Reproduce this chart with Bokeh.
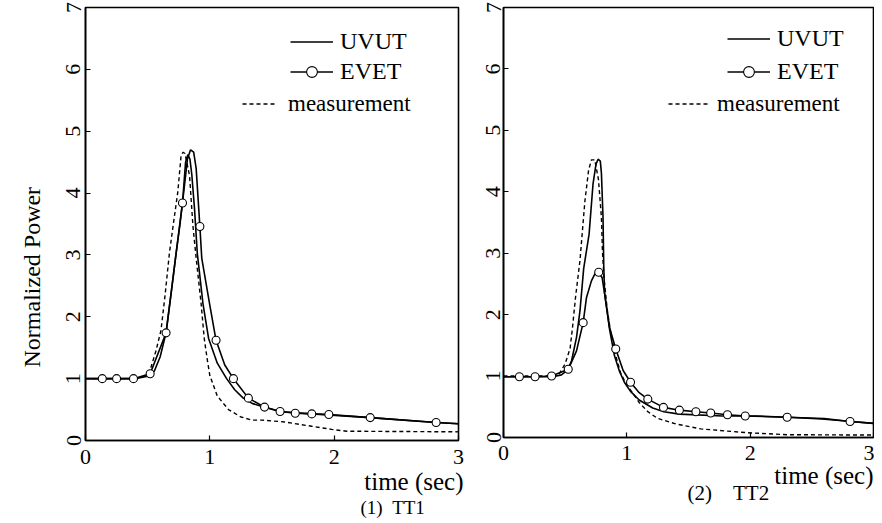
from bokeh.plotting import figure
from bokeh.layouts import row
from bokeh.models import Legend, LegendItem, Title, FixedTicker, Range1d
from bokeh.embed import file_html
from bokeh.resources import INLINE

# ---------------- data ----------------
# (1) TT1
tt1_uvut_t = [0, 0.4, 0.5, 0.553, 0.6, 0.648, 0.69, 0.729, 0.76, 0.78, 0.805, 0.823, 0.84, 0.855,
              0.877, 0.899, 0.945, 0.99, 1.06, 1.135, 1.2, 1.269, 1.34, 1.42, 1.565, 1.82, 2.29, 2.82, 3.0]
tt1_uvut_v = [1.0, 1.0, 1.04, 1.12, 1.35, 1.74, 2.4, 3.03, 3.5, 3.84, 4.5, 4.62, 4.55, 4.3,
              3.74, 3.03, 2.21, 1.65, 1.25, 1.0, 0.82, 0.685, 0.6, 0.55, 0.47, 0.43, 0.37, 0.29, 0.27]
tt1_evet_t = [0, 0.135, 0.25, 0.386, 0.52, 0.648, 0.729, 0.78, 0.82, 0.845, 0.87, 0.89, 0.92,
              0.935, 0.998, 1.05, 1.12, 1.19, 1.31, 1.44, 1.565, 1.687, 1.82, 1.957, 2.29, 2.82, 3.0]
tt1_evet_v = [1.0, 1.0, 1.0, 1.0, 1.08, 1.74, 3.03, 3.84, 4.55, 4.7, 4.66, 4.4, 3.46,
              2.95, 2.21, 1.62, 1.22, 1.0, 0.685, 0.54, 0.47, 0.44, 0.43, 0.42, 0.37, 0.29, 0.27]
tt1_evet_mark_t = [0.135, 0.25, 0.386, 0.52, 0.648, 0.78, 0.92, 1.05, 1.19, 1.31, 1.44, 1.565,
                   1.687, 1.82, 1.957, 2.29, 2.82]
tt1_evet_mark_v = [1.0, 1.0, 1.0, 1.08, 1.74, 3.84, 3.46, 1.62, 1.0, 0.685, 0.54, 0.47,
                   0.44, 0.43, 0.42, 0.37, 0.29]
tt1_meas_t = [0, 0.4, 0.45, 0.5, 0.526, 0.567, 0.607, 0.64, 0.675, 0.71, 0.742, 0.769, 0.785, 0.80,
              0.837, 0.864, 0.89, 0.93, 0.955, 0.98, 1.0, 1.06, 1.15, 1.25, 1.34, 1.42, 1.6, 1.82,
              1.98, 2.1, 3.0]
tt1_meas_v = [1.0, 1.0, 1.02, 1.08, 1.18, 1.45, 1.78, 2.35, 3.03, 3.55, 4.01, 4.61, 4.66, 4.64,
              4.28, 3.47, 2.95, 2.21, 1.65, 1.3, 1.05, 0.72, 0.5, 0.38, 0.33, 0.33, 0.30, 0.23,
              0.18, 0.15, 0.14]

# (2) TT2
tt2_uvut_t = [0, 0.4, 0.47, 0.52, 0.552, 0.592, 0.62, 0.65, 0.694, 0.726, 0.75, 0.767, 0.785,
              0.794, 0.807, 0.813, 0.82, 0.86, 0.9, 0.94, 0.98, 1.03, 1.1, 1.21, 1.3, 1.426,
              1.776, 2.045, 2.31, 2.58, 2.82, 3.0]
tt2_uvut_v = [0.99, 0.99, 1.02, 1.1, 1.25, 1.63, 2.06, 2.75, 3.31, 4.13, 4.45, 4.53, 4.5,
              4.3, 3.58, 2.77, 2.34, 1.76, 1.33, 1.08, 0.9, 0.75, 0.61, 0.48, 0.42, 0.38,
              0.35, 0.35, 0.33, 0.30, 0.26, 0.23]
tt2_evet_t = [0, 0.129, 0.256, 0.39, 0.525, 0.592, 0.646, 0.673, 0.713, 0.745, 0.772, 0.8, 0.82,
              0.86, 0.91, 0.97, 1.03, 1.1, 1.17, 1.297, 1.426, 1.56, 1.68, 1.816, 1.96, 2.3,
              2.6, 2.81, 3.0]
tt2_evet_v = [0.99, 0.99, 0.99, 1.0, 1.11, 1.41, 1.87, 2.28, 2.55, 2.68, 2.69, 2.6, 2.34,
              1.79, 1.44, 1.09, 0.9, 0.73, 0.625, 0.49, 0.445, 0.42, 0.40, 0.37, 0.35, 0.33,
              0.31, 0.26, 0.23]
tt2_evet_mark_t = [0.129, 0.256, 0.39, 0.525, 0.646, 0.772, 0.91, 1.03, 1.17, 1.297, 1.426,
                   1.56, 1.68, 1.816, 1.96, 2.3, 2.81]
tt2_evet_mark_v = [0.99, 0.99, 1.0, 1.11, 1.87, 2.69, 1.44, 0.9, 0.625, 0.49, 0.445,
                   0.42, 0.40, 0.37, 0.35, 0.33, 0.26]
tt2_meas_t = [0, 0.4, 0.45, 0.5, 0.54, 0.56, 0.585, 0.62, 0.66, 0.69, 0.713, 0.74, 0.77, 0.794,
              0.802, 0.815, 0.84, 0.87, 0.9, 0.95, 1.0, 1.05, 1.1, 1.17, 1.25, 1.4, 1.6, 1.96,
              2.3, 3.0]
tt2_meas_v = [1.0, 1.0, 1.03, 1.2, 1.45, 1.8, 2.3, 2.88, 3.85, 4.35, 4.52, 4.52, 4.2, 3.58,
              3.04, 2.6, 2.1, 1.7, 1.4, 1.05, 0.85, 0.72, 0.57, 0.42, 0.31, 0.22, 0.14, 0.08,
              0.045, 0.04]

x_ticks = [0, 1, 2, 3]
y_ticks = [0, 1, 2, 3, 4, 5, 6, 7]
series_names = ["UVUT", "EVET", "measurement"]
x_title = "time (sec)"
y_title = "Normalized Power"
NB = "\u00a0"
captions = ["(1)" + NB * 2 + "TT1", "(2)" + NB * 4 + "TT2"]

FONT = "Liberation Serif"


def make_panel(uv_t, uv_v, ev_t, ev_v, evm_t, evm_v, me_t, me_v,
               border_left, border_right, frame_w, frame_h, border_bottom,
               ylab_standoff, xlab_standoff, leg_main, leg_spacing, leg_meas,
               meas_glyph_w, meas_standoff):
    p = figure(frame_width=frame_w, frame_height=frame_h,
               min_border_left=border_left, min_border_right=border_right,
               min_border_top=7, min_border_bottom=border_bottom,
               x_range=Range1d(0, 3), y_range=Range1d(0, 7),
               output_backend="svg", toolbar_location=None, tools="")
    p.background_fill_color = "white"
    p.border_fill_color = "white"
    p.outline_line_color = "black"
    p.outline_line_width = 1.6
    p.xgrid.visible = False
    p.ygrid.visible = False

    for ax in (p.xaxis[0], p.yaxis[0]):
        ax.axis_line_color = "black"
        ax.axis_line_width = 1.6
        ax.major_tick_in = 5
        ax.major_tick_out = 0
        ax.minor_tick_line_color = None
        ax.major_tick_line_color = "black"
        ax.major_tick_line_width = 1.2
        ax.major_label_text_font = FONT
        ax.major_label_text_font_size = "22px"
        ax.major_label_text_color = "black"
    p.xaxis[0].ticker = FixedTicker(ticks=x_ticks)
    p.yaxis[0].ticker = FixedTicker(ticks=y_ticks)
    p.xaxis[0].major_label_standoff = xlab_standoff
    p.yaxis[0].major_label_standoff = ylab_standoff
    p.yaxis[0].major_label_orientation = "vertical"

    r_me = p.line(me_t, me_v, line_color="black", line_width=1.4, line_dash="4 3")
    r_uv = p.line(uv_t, uv_v, line_color="black", line_width=1.6)
    r_ev = p.line(ev_t, ev_v, line_color="black", line_width=1.6)
    r_evm = p.scatter(evm_t, evm_v, marker="circle", size=8, fill_color="white",
                      line_color="black", line_width=1.1)

    leg1 = Legend(items=[LegendItem(label=series_names[0], renderers=[r_uv]),
                         LegendItem(label=series_names[1], renderers=[r_ev, r_evm])],
                  location=leg_main, glyph_width=43, glyph_height=27, label_height=27,
                  label_standoff=7, spacing=leg_spacing, padding=0, margin=0,
                  label_text_font=FONT, label_text_font_size="24px",
                  label_text_color="black",
                  background_fill_alpha=0, border_line_alpha=0)
    leg2 = Legend(items=[LegendItem(label=series_names[2], renderers=[r_me])],
                  location=leg_meas, glyph_width=meas_glyph_w, glyph_height=27,
                  label_height=27, label_standoff=meas_standoff, spacing=0, padding=0,
                  margin=0, label_text_font=FONT, label_text_font_size="23px",
                  label_text_color="black",
                  background_fill_alpha=0, border_line_alpha=0)
    p.add_layout(leg1, "center")
    p.add_layout(leg2, "center")
    return p


left = make_panel(tt1_uvut_t, tt1_uvut_v, tt1_evet_t, tt1_evet_v, tt1_evet_mark_t,
                  tt1_evet_mark_v, tt1_meas_t, tt1_meas_v,
                  border_left=85, border_right=20, frame_w=373, frame_h=433, border_bottom=75,
                  ylab_standoff=5, xlab_standoff=9, leg_main=(205, 355), leg_spacing=3,
                  leg_meas=(157, 323), meas_glyph_w=35, meas_standoff=11)
right = make_panel(tt2_uvut_t, tt2_uvut_v, tt2_evet_t, tt2_evet_v, tt2_evet_mark_t,
                   tt2_evet_mark_v, tt2_meas_t, tt2_meas_v,
                   border_left=25, border_right=1, frame_w=370, frame_h=430, border_bottom=78,
                   ylab_standoff=3, xlab_standoff=8, leg_main=(224, 352), leg_spacing=6,
                   leg_meas=(165, 320), meas_glyph_w=40, meas_standoff=9)


def title(text, size, **kw):
    return Title(text=text, text_font=FONT, text_font_size=size, text_font_style="normal",
                 text_color="black", **kw)


# texts around the frames, as titles in the side panels
left.add_layout(title(x_title, "25px", align="right", offset=-5, standoff=-2), "below")
left.add_layout(title(captions[0], "19px", align="left", offset=275, standoff=2), "below")
left.add_layout(title(y_title, "24px", align="left", offset=73, standoff=33,
                      vertical_align="top"), "left")
right.add_layout(title(x_title, "25px", align="right", offset=0, standoff=-6), "below")
right.add_layout(title(captions[1], "21px", align="left", offset=184, standoff=-10,
                       vertical_align="top"), "below")

layout = row(left, right, spacing=0)
open("out.html", "w").write(file_html(layout, INLINE))
